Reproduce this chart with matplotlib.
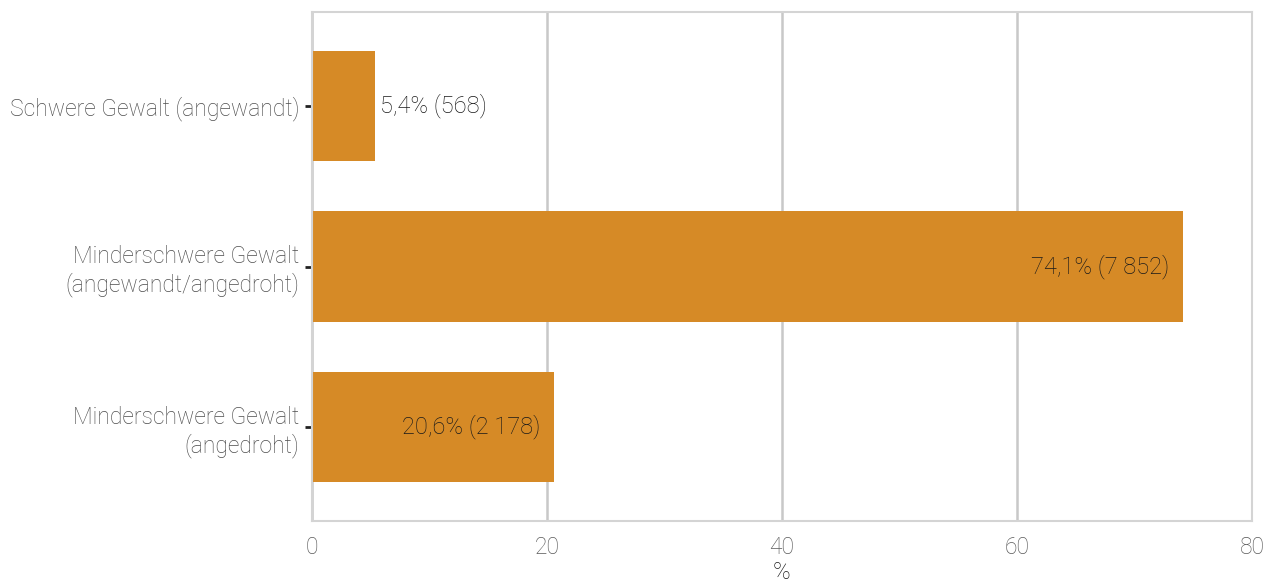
import matplotlib
matplotlib.use("Agg")
from matplotlib import pyplot as plt

plt.rcParams['font.family'] = ['Roboto', 'DejaVu Sans']

categories = ["Schwere Gewalt (angewandt)",
              "Minderschwere Gewalt\n(angewandt/angedroht)",
              "Minderschwere Gewalt\n(angedroht)"]
percent = [5.4, 74.1, 20.6]
labels = ["5,4% (568)", "74,1% (7 852)", "20,6% (2 178)"]
inside = [False, True, True]

bar_color = "#D68A26"
grid_color = "#c8c8c8"

fig = plt.figure(figsize=(12.78, 5.84), dpi=100)
ax = fig.add_axes([312 / 1278, 1 - 521 / 584, 940 / 1278, 509 / 584])

ypos = list(range(len(categories)))[::-1]
ax.barh(ypos, percent, height=0.69, color=bar_color, zorder=2)

for y, v, lab, ins in zip(ypos, percent, labels, inside):
    if ins:
        ax.annotate(lab, (v, y), xytext=(-10, 0), textcoords="offset points",
                    ha="right", va="center", fontsize=17, color="#1a1a1a",
                    fontweight="light")
    else:
        ax.annotate(lab, (v, y), xytext=(3, 0), textcoords="offset points",
                    ha="left", va="center", fontsize=17, color="#1a1a1a",
                    fontweight="light")

ax.set_xlim(0, 80)
ax.set_ylim(-0.585, 2.585)
ax.set_xticks([0, 20, 40, 60, 80])
ax.set_yticks(ypos)
ax.set_yticklabels(categories, fontsize=16.5, color="#4d4d4d", fontweight="light")
ax.xaxis.grid(True, color=grid_color, linewidth=1.8, zorder=0)
ax.set_axisbelow(True)
ax.tick_params(axis="x", length=0, pad=11, labelsize=16.5, labelcolor="#5a5a5a")
ax.tick_params(axis="y", length=5, width=2, color="#222222", pad=4)
for lab in ax.get_xticklabels():
    lab.set_fontweight("light")
for s in ax.spines.values():
    s.set_color("#d4d4d4")
    s.set_linewidth(1.5)
ax.set_xlabel("%", fontsize=17, color="#1a1a1a", labelpad=1, fontweight="light")

fig.savefig("out.png", dpi=100)
